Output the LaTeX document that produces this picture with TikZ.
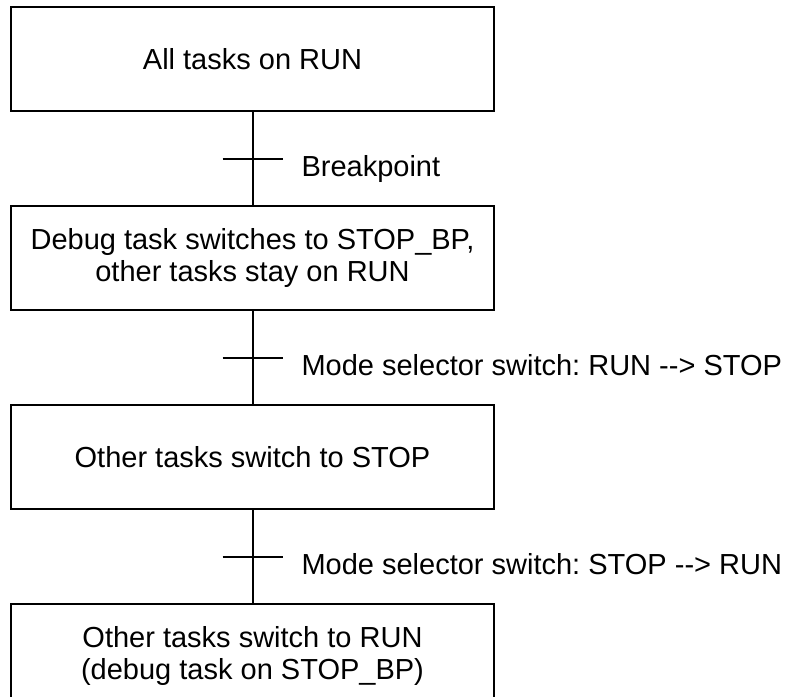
\documentclass[tikz,border=0pt]{standalone}
\usepackage{fontspec}
\setmainfont{Liberation Sans}
\frenchspacing
\usetikzlibrary{positioning}
\begin{document}
\begin{tikzpicture}[line width=1pt, node distance=46.5pt,
        font=\fontsize{14.5}{16}\selectfont,
        passo/.style={draw, minimum width=241.5pt, minimum height=52pt, inner sep=0pt, align=center},
        cond/.style={anchor=base west, inner sep=0pt, xshift=9pt, yshift=-8.75pt}]
        \useasboundingbox (0,0) rectangle (393.5pt,-348pt);
        %passi
        \node[passo] (p1) at (126.25pt,-29.5pt) {All tasks on RUN};
        \node[passo, below=of p1] (p2) {Debug task switches to STOP\_BP,\\other tasks stay on RUN};
        \node[passo, below=of p2] (p3) {Other tasks switch to STOP};
        \node[passo, below=of p3] (p4) {Other tasks switch to RUN\\(debug task on STOP\_BP)};

        %collegamenti
        \draw (p1)--(p2) coordinate[midway] (t1);
        \draw (p2)--(p3) coordinate[midway] (t2);
        \draw (p3)--(p4) coordinate[midway] (t3);

        %transizioni
        \draw ([xshift=-15pt]t1)--([xshift=15pt]t1) node[cond]{Breakpoint};
        \draw ([xshift=-15pt]t2)--([xshift=15pt]t2) node[cond]{Mode selector switch: RUN -{}-> STOP};
        \draw ([xshift=-15pt]t3)--([xshift=15pt]t3) node[cond]{Mode selector switch: STOP -{}-> RUN};

    \end{tikzpicture}
\end{document}
